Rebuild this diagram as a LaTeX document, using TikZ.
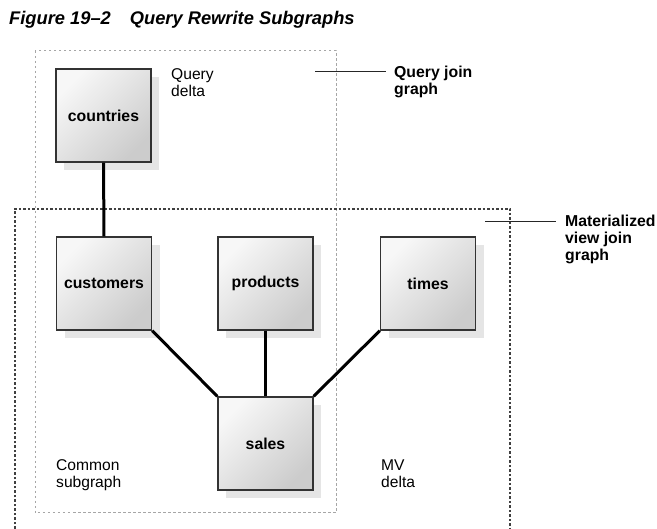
\documentclass[tikz,border=0pt]{standalone}
\usepackage{fontspec}
\setmainfont{Liberation Sans}
\begin{document}
\begin{tikzpicture}[x=1pt,y=-1pt,
  tbl/.style={draw=black!80, line width=1.4pt, minimum width=95pt, minimum height=93pt,
    top color=black!3, bottom color=black!20, shading angle=45,
    font=\fontsize{15.8}{17}\selectfont\bfseries, inner sep=0pt},
  shadowbox/.style={fill=black!10, minimum width=95pt, minimum height=93pt, inner sep=0pt},
  joinline/.style={line width=3pt, black},
  lbl/.style={font=\fontsize{15.6}{17}\selectfont, align=left, inner sep=0pt, anchor=north west},
  blbl/.style={lbl, font=\fontsize{15.8}{17}\selectfont\bfseries},
  leader/.style={line width=1pt, black!85},
  qbox/.style={draw=black!35, line width=1pt, dash pattern=on 2.5pt off 2.5pt},
  mvbox/.style={draw=black!75, line width=1.6pt, dash pattern=on 2.5pt off 2pt}
]
\useasboundingbox (0,0) rectangle (657,529);
\fill[white] (0,0) rectangle (657,529);

% title
\node[anchor=base west, inner sep=0pt, font=\fontsize{18.3}{19}\selectfont\bfseries\itshape] (title) at (9,25) {Figure 19--2\hspace{19pt}Query Rewrite Subgraphs};

% dotted regions
\draw[qbox] (35,51) rectangle (336,513);
\draw[mvbox] (15,529) -- (15,209) -- (510,209) -- (510,529);

% shadows
\foreach \p/\c in {cs/{111.5,123.5}, cus/{112,291.5}, ps/{273.5,291.5}, ts/{436,291.5}, ss/{273.5,451.5}}
  \node[shadowbox] (\p) at (\c) {};

% tables
\node[tbl] (countries) at (103.5,115.5) {countries};
\node[tbl] (customers) at (104,283.5) {customers};
\node[tbl] (products) at (265.5,283.5) {products};
\node[tbl] (times) at (428,283.5) {times};
\node[tbl] (sales) at (265.5,443.5) {sales};

% joins
\draw[joinline] (countries.south) -- (customers.north);
\draw[joinline] (customers.south east) -- (sales.north west);
\draw[joinline] (products.south) -- (sales.north);
\draw[joinline] (times.south west) -- (sales.north east);

% labels
\node[lbl] (qdelta) at (171,68) {Query\\delta};
\node[lbl] (common) at (56,459) {Common\\subgraph};
\node[lbl] (mvdelta) at (381,460) {MV\\delta};
\node[blbl] (qjg) at (394,66) {Query join\\graph};
\node[blbl] (mvjg) at (565,215) {Materialized\\view join\\graph};

\coordinate (qjgend) at (315,72);
\coordinate (mvjgend) at (485,222);
\draw[leader] (qjgend) -- ([xshift=-8pt]qjg.west |- qjgend);
\draw[leader] (mvjgend) -- ([xshift=-9pt]mvjg.west |- mvjgend);
\end{tikzpicture}
\end{document}
